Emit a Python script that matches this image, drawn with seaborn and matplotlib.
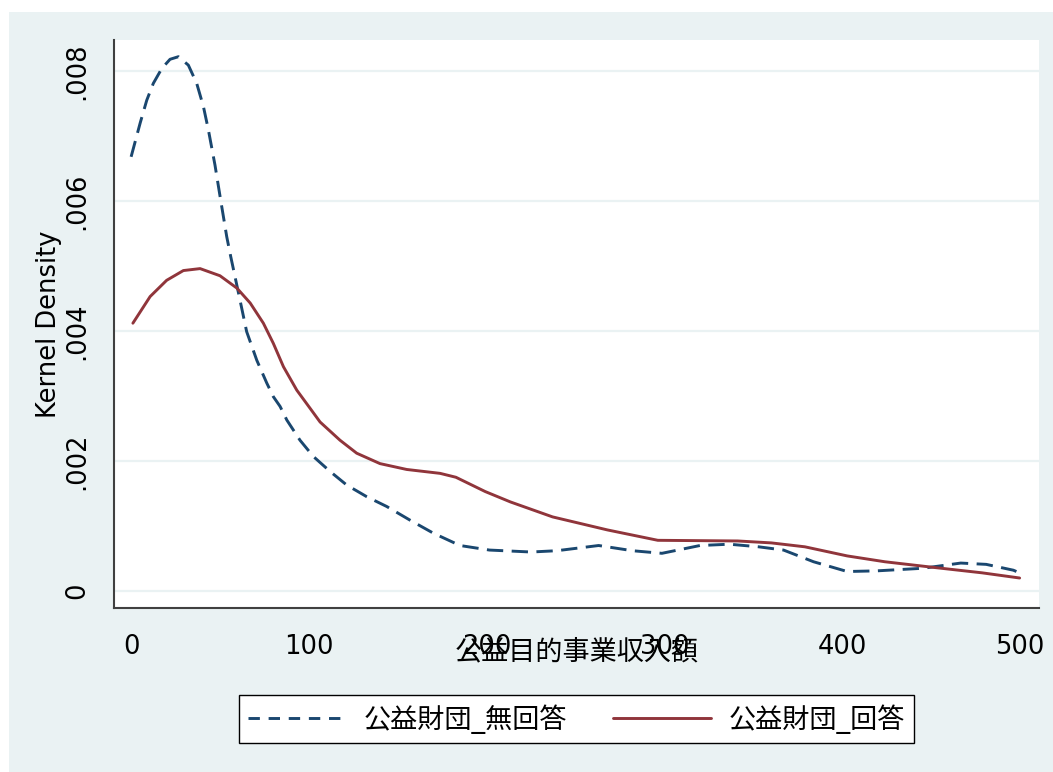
import pandas as pd
import seaborn as sns
import matplotlib.pyplot as plt
from matplotlib.patches import Rectangle

# 無回答 (dashed)
x_noans = [0, 5.1, 8.8, 12.5, 17.3, 21.9, 26.6, 32.2, 36.9, 40.7, 43.5, 47.2, 50.4, 53.8, 56,
           61.3, 65, 70.7, 76.3, 80, 83.8, 87.6, 95, 102.5, 111.9, 121.3, 132.6, 143.8, 156.9,
           170, 185, 201.6, 225, 239.5, 263, 282, 298.6, 320, 336.6, 353, 367, 383.9, 402.8,
           419.4, 445.4, 466.7, 481, 496.3, 498]
y_noans = [0.00668, 0.00720, 0.00755, 0.00781, 0.00804, 0.00818, 0.00822, 0.00809, 0.00781,
           0.00745, 0.00709, 0.00655, 0.00601, 0.00545, 0.00515, 0.00447, 0.00399, 0.00355,
           0.00320, 0.00299, 0.00284, 0.00263, 0.00232, 0.00207, 0.00184, 0.00163, 0.00145,
           0.00130, 0.00109, 0.00089, 0.00070, 0.00063, 0.00060, 0.00062, 0.00070, 0.00062,
           0.00058, 0.00070, 0.00072, 0.00068, 0.00063, 0.00045, 0.00030, 0.00031, 0.00035,
           0.00043, 0.00041, 0.00032, 0.00030]

# 回答 (solid)
x_ans = [1, 10.7, 20, 29.4, 38.8, 50, 59.5, 67, 74.4, 80, 85.7, 93.2, 100.7, 106.3, 117.5,
         126.9, 140, 155, 173.8, 182.7, 199.2, 213.4, 237.1, 267.9, 296.3, 341.2, 360.2, 379,
         402.8, 424, 452.5, 478.6, 499.8]
y_ans = [0.00412, 0.00453, 0.00478, 0.00493, 0.00496, 0.00485, 0.00466, 0.00443, 0.00412,
         0.00381, 0.00345, 0.00309, 0.00281, 0.00260, 0.00232, 0.00212, 0.00196, 0.00187,
         0.00181, 0.00175, 0.00153, 0.00137, 0.00114, 0.00094, 0.00078, 0.00077, 0.00074,
         0.00068, 0.00054, 0.00045, 0.00036, 0.00028, 0.00020]

labels = ['公益財団_無回答', '公益財団_回答']
xticks = [0, 100, 200, 300, 400, 500]
yticks = [0, 0.002, 0.004, 0.006, 0.008]
ytick_labels = ['0', '.002', '.004', '.006', '.008']

bg = '#EAF2F3'
blue = '#1A476F'
red = '#90353B'

sns.set_style('white')
plt.rcParams['font.family'] = ['DejaVu Sans', 'Noto Sans CJK JP']
plt.rcParams['text.color'] = 'black'
plt.rcParams['xtick.labelcolor'] = 'black'
plt.rcParams['ytick.labelcolor'] = 'black'
plt.rcParams['axes.labelcolor'] = 'black'

df1 = pd.DataFrame({'x': x_noans, 'y': y_noans})
df2 = pd.DataFrame({'x': x_ans, 'y': y_ans})

fig = plt.figure(figsize=(10.53, 7.72), dpi=100)
fig.patch.set_facecolor('white')
fig.add_artist(Rectangle((9 / 1053, 0), 1 - 9 / 1053, 1 - 12 / 772,
                         transform=fig.transFigure, facecolor=bg, edgecolor='none', zorder=-2))
ax = fig.add_axes([0.1083, 0.2128, 0.8784, 0.7354])
ax.set_facecolor('white')

sns.lineplot(data=df1, x='x', y='y', ax=ax, color=blue, linewidth=2.1, sort=False,
             label=labels[0])
sns.lineplot(data=df2, x='x', y='y', ax=ax, color=red, linewidth=2.1, sort=False,
             label=labels[1])
ax.lines[0].set_dashes([5.6, 2.9])

ax.set_xlim(-9.6, 510.7)
ax.set_ylim(-0.000257, 0.008477)
ax.set_xticks(xticks)
ax.set_yticks(yticks, ytick_labels)
for t in ax.get_yticklabels():
    t.set_rotation(90)
    t.set_va('center')
ax.tick_params(axis='both', labelsize=18.5, length=10, width=1.3, color='#404040', pad=9)
ax.tick_params(axis='y', pad=7)
ax.grid(axis='y', color=bg, linewidth=1.6)
ax.set_axisbelow(True)

for s in ['top', 'right']:
    ax.spines[s].set_visible(False)
for s in ['left', 'bottom']:
    ax.spines[s].set_color('#404040')
    ax.spines[s].set_linewidth(1.5)

ax.set_xlabel('公益目的事業収入額', fontsize=19.5)
ax.xaxis.set_label_coords(0.5, -0.055)
ax.set_ylabel('Kernel Density', fontsize=18.5)
ax.yaxis.set_label_coords(-0.056, 0.5)

h, l = ax.get_legend_handles_labels()
ax.get_legend().remove()
leg = fig.legend(h, l, loc='center', bbox_to_anchor=(576.5 / 1053, 1 - 719 / 772), ncol=2,
                 fontsize=19.5, frameon=True, fancybox=False, edgecolor='black', framealpha=1,
                 handlelength=3.6, handletextpad=0.65, columnspacing=1.7, borderpad=0.35)
leg.get_frame().set_linewidth(1.0)
leg.get_lines()[0].set_dashes([3.9, 3.0])

fig.savefig('out.png', dpi=100, facecolor=fig.get_facecolor())
